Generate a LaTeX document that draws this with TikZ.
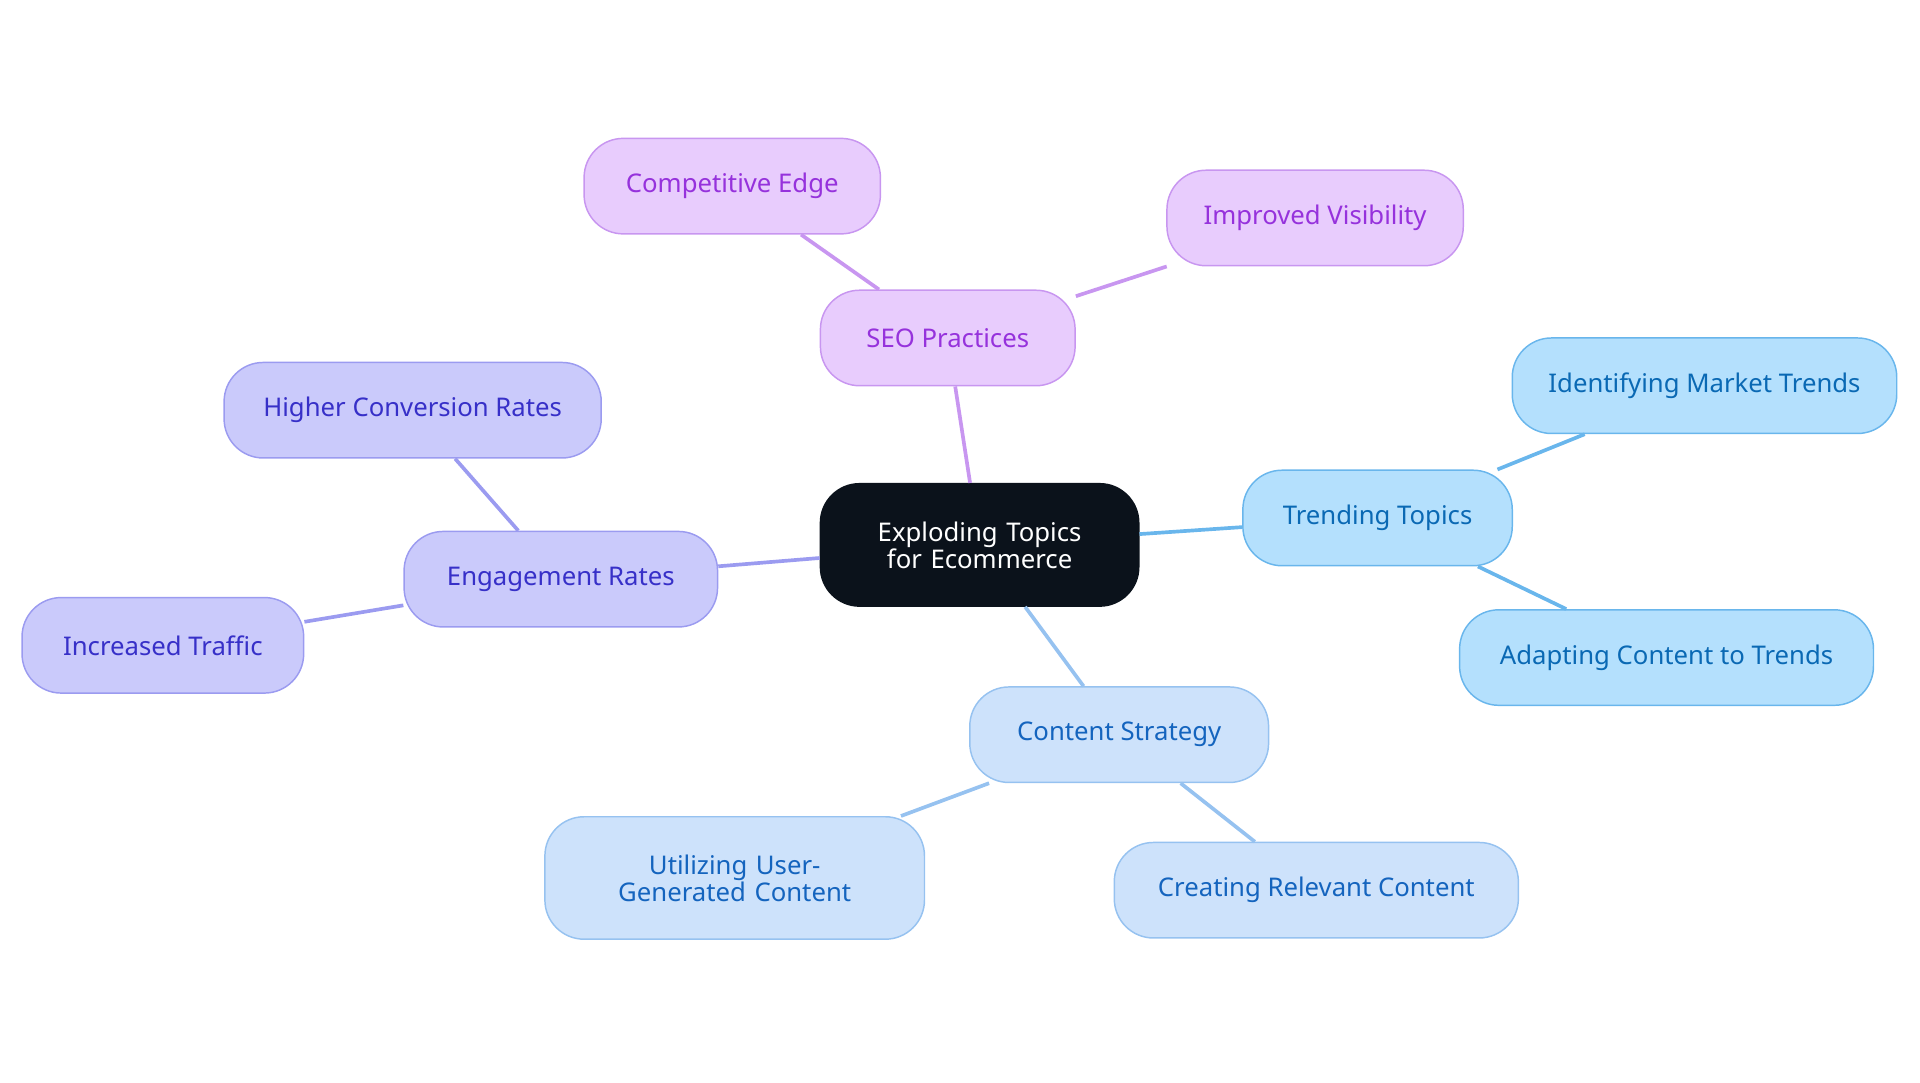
\documentclass[tikz,border=0pt]{standalone}
\usepackage{fontspec}
\setmainfont{Noto Sans}
\usetikzlibrary{positioning}
\definecolor{rootfill}{RGB}{11,18,27}
\definecolor{seofill}{RGB}{232,204,253}
\definecolor{seoline}{RGB}{200,150,240}
\definecolor{seotext}{RGB}{150,50,220}
\definecolor{trendfill}{RGB}{180,224,253}
\definecolor{trendline}{RGB}{105,182,236}
\definecolor{trendtext}{RGB}{10,105,180}
\definecolor{contfill}{RGB}{205,226,251}
\definecolor{contline}{RGB}{150,194,240}
\definecolor{conttext}{RGB}{20,100,190}
\definecolor{engfill}{RGB}{202,202,251}
\definecolor{engline}{RGB}{155,155,240}
\definecolor{engtext}{RGB}{55,48,200}
\tikzset{
  box/.style={rounded corners=16pt, align=center, minimum height=39pt, inner sep=2pt, line width=0.6pt, font=\fontsize{10.5}{11}\selectfont},
  root/.style={box, fill=rootfill, draw=rootfill, text=white, minimum width=130pt, minimum height=50pt, text width=115pt},
  seo/.style={box, fill=seofill, draw=seoline, text=seotext},
  trend/.style={box, fill=trendfill, draw=trendline, text=trendtext},
  cont/.style={box, fill=contfill, draw=contline, text=conttext},
  eng/.style={box, fill=engfill, draw=engline, text=engtext},
  link/.style={line width=1.5pt}
}
\begin{document}
\begin{tikzpicture}[x=0.5pt, y=-0.5pt]
\useasboundingbox (0,0) rectangle (1568,884);
% links first
\coordinate (c) at (800,445);
\node[root] (root) at (800,445) {Exploding Topics for Ecommerce};

\node[seo, minimum width=104pt] (seoP) at (774,276) {SEO Practices};
\node[seo, minimum width=121pt] (edge) at (598,152) {Competitive Edge};
\node[seo, minimum width=121pt] (visib) at (1074,178) {Improved Visibility};

\node[trend, minimum width=110pt] (trend) at (1125,423) {Trending Topics};
\node[trend, minimum width=157pt] (ident) at (1392,315) {Identifying Market Trends};
\node[trend, minimum width=169pt] (adapt) at (1361,537) {Adapting Content to Trends};

\node[cont, minimum width=122pt] (strat) at (914,600) {Content Strategy};
\node[cont, minimum width=155pt, minimum height=50pt, text width=140pt] (ugc) at (600,717) {Utilizing User-Generated Content};
\node[cont, minimum width=165pt] (relev) at (1075,727) {Creating Relevant Content};

\node[eng, minimum width=128pt] (engage) at (458,473) {Engagement Rates};
\node[eng, minimum width=154pt] (conv) at (337,335) {Higher Conversion Rates};
\node[eng, minimum width=115pt] (traffic) at (133,527) {Increased Traffic};

\begin{scope}[on background layer/.style={}]
\draw[link, seoline] (root) -- (seoP);
\draw[link, seoline] (seoP) -- (edge);
\draw[link, seoline] (seoP) -- (visib);
\draw[link, trendline] (root) -- (trend);
\draw[link, trendline] (trend) -- (ident);
\draw[link, trendline] (trend) -- (adapt);
\draw[link, contline] (root) -- (strat);
\draw[link, contline] (strat) -- (ugc);
\draw[link, contline] (strat) -- (relev);
\draw[link, engline] (root) -- (engage);
\draw[link, engline] (engage) -- (conv);
\draw[link, engline] (engage) -- (traffic);
\end{scope}
\end{tikzpicture}
\end{document}
